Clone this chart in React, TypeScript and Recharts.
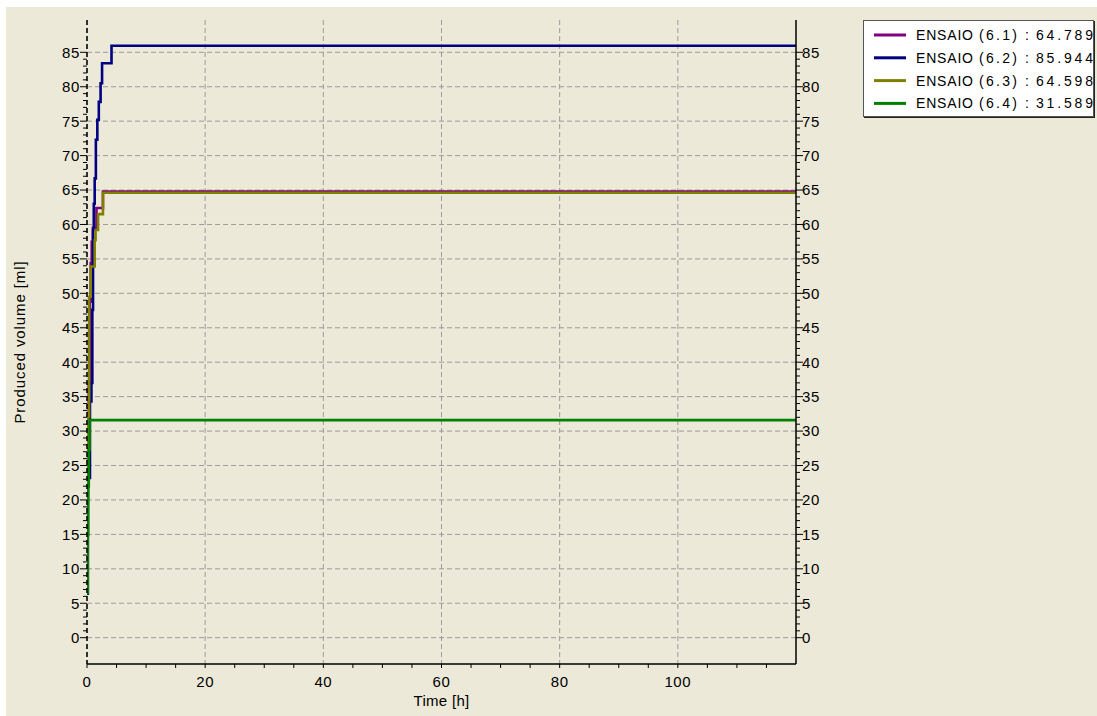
import React from 'react';
import { LineChart, Line, XAxis, YAxis, CartesianGrid, Legend, Label } from 'recharts';

type Pt = { t: number; v: number };

// Produced volume [ml] against time [h] for each test
const ensaio61: Pt[] = [
  { t: 0, v: 6.5 }, { t: 0.1, v: 22 }, { t: 0.2, v: 30 }, { t: 0.29, v: 36.9 },
  { t: 0.46, v: 48.8 }, { t: 0.63, v: 54.4 }, { t: 0.8, v: 57.5 }, { t: 1.0, v: 59.5 },
  { t: 1.6, v: 62.4 }, { t: 2.7, v: 64.789 }, { t: 120, v: 64.789 },
];
const ensaio62: Pt[] = [
  { t: 0, v: 6.4 }, { t: 0.15, v: 23.2 }, { t: 0.5, v: 34.3 }, { t: 0.75, v: 37 },
  { t: 0.9, v: 47.6 }, { t: 1.02, v: 59.2 }, { t: 1.15, v: 63 }, { t: 1.3, v: 66.7 },
  { t: 1.5, v: 72.3 }, { t: 1.75, v: 75.2 }, { t: 2.0, v: 77.8 }, { t: 2.3, v: 80.5 },
  { t: 2.55, v: 83.4 }, { t: 4.15, v: 85.944 }, { t: 120, v: 85.944 },
];
const ensaio63: Pt[] = [
  { t: 0, v: 6.7 }, { t: 0.1, v: 20 }, { t: 0.17, v: 32.1 }, { t: 0.35, v: 49.5 },
  { t: 0.63, v: 53.9 }, { t: 1.3, v: 57.7 }, { t: 1.45, v: 59.2 }, { t: 1.87, v: 61.5 },
  { t: 2.7, v: 64.598 }, { t: 120, v: 64.598 },
];
const ensaio64: Pt[] = [
  { t: 0, v: 6.5 }, { t: 0.1, v: 14.9 }, { t: 0.2, v: 22 }, { t: 0.3, v: 27.3 },
  { t: 0.46, v: 31.589 }, { t: 120, v: 31.589 },
];

const seriesNames = ['ENSAIO (6.1)', 'ENSAIO (6.2)', 'ENSAIO (6.3)', 'ENSAIO (6.4)'];
const seriesCodes = ['(6.1)', '(6.2)', '(6.3)', '(6.4)'];
const seriesColors = ['#800080', '#000080', '#808000', '#008000'];
const seriesData = [ensaio61, ensaio62, ensaio63, ensaio64];

const yMajorTicks = [0, 5, 10, 15, 20, 25, 30, 35, 40, 45, 50, 55, 60, 65, 70, 75, 80, 85];
const yAllTicks = Array.from({ length: 86 }, (_, i) => i);
const xMajorTicks = [0, 20, 40, 60, 80, 100];
const xAllTicks = Array.from({ length: 24 }, (_, i) => i * 5);

const Y_DOMAIN: [number, number] = [-3.82, 89.69];
const X_DOMAIN: [number, number] = [0, 120];

const FONT = '"Liberation Sans", Arial, sans-serif';
const BG = '#ECE9D8';

const LeftTick = (p: any) => {
  const v = p.payload.value;
  const major = v % 5 === 0;
  return (
    <g>
      <line x1={p.x - (major ? 7 : 4)} x2={p.x} y1={p.y} y2={p.y} stroke="#000" />
      {major && (
        <text x={p.x - 7} y={p.y + 5.4} textAnchor="end" fontSize={15} fontFamily={FONT} fill="#000" letterSpacing={0.6}>
          {v}
        </text>
      )}
    </g>
  );
};

const RightTick = (p: any) => {
  const v = p.payload.value;
  const major = v % 5 === 0;
  return (
    <g>
      <line x1={p.x} x2={p.x + (major ? 7 : 4)} y1={p.y} y2={p.y} stroke="#000" />
      {major && (
        <text x={p.x + 6} y={p.y + 5.4} textAnchor="start" fontSize={15} fontFamily={FONT} fill="#000" letterSpacing={0.6}>
          {v}
        </text>
      )}
    </g>
  );
};

const BottomTick = (p: any) => {
  const v = p.payload.value;
  const major = v % 20 === 0;
  return (
    <g>
      <line x1={p.x} x2={p.x} y1={p.y} y2={p.y + 4} stroke="#000" />
      {major && (
        <text x={p.x} y={p.y + 22.5} textAnchor="middle" fontSize={15} fontFamily={FONT} fill="#000" letterSpacing={0.6}>
          {v}
        </text>
      )}
    </g>
  );
};

const YTitle = (props: any) => {
  const vb = props.viewBox;
  const x = vb.x + 17.5;
  const y = vb.y + vb.height / 2;
  return (
    <text x={x} y={y} transform={`rotate(-90, ${x}, ${y})`} textAnchor="middle" fontSize={15} fontFamily={FONT} fill="#000" letterSpacing={0.9}>
      Produced volume [ml]
    </text>
  );
};

const XTitle = (props: any) => {
  const vb = props.viewBox;
  return (
    <text x={vb.x + vb.width / 2} y={vb.y + 42} textAnchor="middle" fontSize={15} fontFamily={FONT} fill="#000" letterSpacing={0.3}>
      Time [h]
    </text>
  );
};

const LegendBox = () => (
  <svg width={231} height={97} style={{ display: 'block' }}>
    {seriesNames.map((name, i) => {
      const data = seriesData[i];
      const last = data[data.length - 1].v;
      const cy = 14 + i * 22.8;
      return (
        <g key={name} fontFamily={FONT} fontSize={14} fill="#000">
          <line x1={10} x2={42} y1={cy} y2={cy} stroke={seriesColors[i]} strokeWidth={3} />
          <text x={52} y={cy + 5} textLength={57} lengthAdjust="spacing">ENSAIO</text>
          <text x={115} y={cy + 5} textLength={38} lengthAdjust="spacing">{seriesCodes[i]}</text>
          <text x={163} y={cy + 5} textAnchor="middle">:</text>
          <text x={172} y={cy + 5} textLength={57} lengthAdjust="spacing">{last.toFixed(3)}</text>
        </g>
      );
    })}
  </svg>
);

export default function App() {
  return (
    <div style={{ position: 'absolute', left: 0, top: 0, width: 1097, height: 716, background: '#fff', overflow: 'hidden' }}>
      <div style={{ position: 'absolute', left: 6, top: 7, width: 1091, height: 709, background: BG }} />
      <div style={{ position: 'absolute', left: 0, top: 0 }}>
        <LineChart width={1097} height={716} margin={{ top: 20, right: 261, bottom: 0, left: 7 }}>
          <CartesianGrid
            xAxisId="bottom"
            yAxisId="left"
            stroke="#9a9a9a"
            strokeDasharray="5 3"
            horizontalValues={yMajorTicks}
            verticalValues={xMajorTicks}
          />
          <XAxis
            xAxisId="bottom"
            dataKey="t"
            type="number"
            domain={X_DOMAIN}
            allowDataOverflow
            ticks={xAllTicks}
            interval={0}
            height={52}
            tickSize={0}
            tickMargin={0}
            tickLine={false}
            tick={BottomTick}
            axisLine={{ stroke: '#000', strokeWidth: 1.5 }}
          >
            <Label content={XTitle} />
          </XAxis>
          <XAxis
            xAxisId="top"
            orientation="top"
            type="number"
            domain={X_DOMAIN}
            height={0}
            tick={false}
            tickLine={false}
            axisLine={{ stroke: '#000', strokeWidth: 1.5 }}
          />
          <YAxis
            yAxisId="left"
            type="number"
            domain={Y_DOMAIN}
            allowDataOverflow
            ticks={yAllTicks}
            interval={0}
            width={80}
            tickSize={0}
            tickMargin={0}
            tickLine={false}
            tick={LeftTick}
            axisLine={{ stroke: '#000', strokeWidth: 1.5, strokeDasharray: '5 3' }}
          >
            <Label content={YTitle} />
          </YAxis>
          <YAxis
            yAxisId="right"
            orientation="right"
            type="number"
            domain={Y_DOMAIN}
            allowDataOverflow
            ticks={yAllTicks}
            interval={0}
            width={40}
            tickSize={0}
            tickMargin={0}
            tickLine={false}
            tick={RightTick}
            axisLine={{ stroke: '#000', strokeWidth: 1.5 }}
          />
          {seriesNames.map((name, i) => (
            <Line
              key={name}
              name={name}
              xAxisId="bottom"
              yAxisId="left"
              data={seriesData[i]}
              dataKey="v"
              type="stepAfter"
              stroke={seriesColors[i]}
              strokeWidth={2.6}
              dot={false}
              activeDot={false}
              isAnimationActive={false}
            />
          ))}
          <Legend
            layout="horizontal"
            verticalAlign="middle"
            align="center"
            content={LegendBox}
            wrapperStyle={{
              position: 'absolute',
              left: 863,
              top: 20,
              width: 231,
              height: 97,
              background: '#fff',
              border: '1px solid #555',
              boxShadow: '1px 1px 0 #222',
              boxSizing: 'border-box',
            }}
          />
        </LineChart>
      </div>
    </div>
  );
}
